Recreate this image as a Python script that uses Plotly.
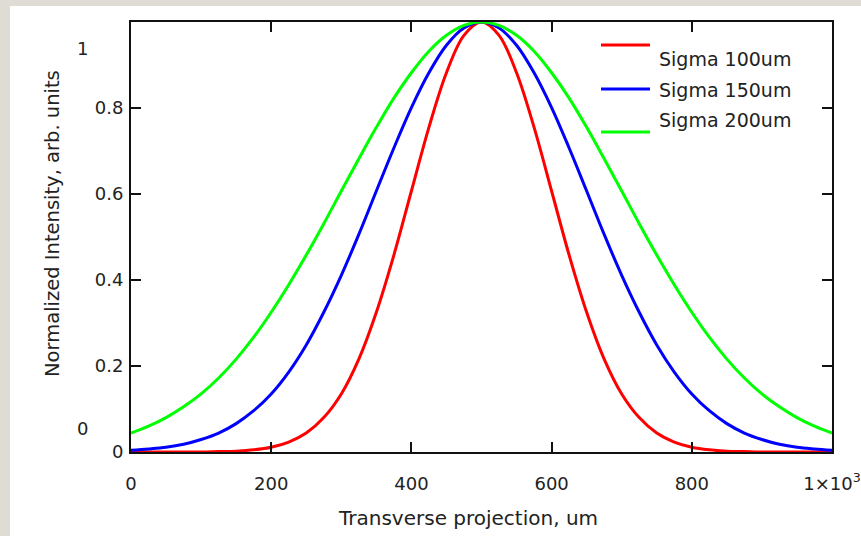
import plotly.graph_objects as go

# Transverse position (um)
x_um = [0, 25, 50, 75, 100, 125, 150, 175, 200, 225, 250, 275, 300, 325, 350, 375, 400,
        425, 450, 475, 500, 525, 550, 575, 600, 625, 650, 675, 700, 725, 750, 775, 800,
        825, 850, 875, 900, 925, 950, 975, 1000]

# Normalized intensity (symmetric about 500 um)
sigma100 = [0.000, 0.000, 0.000, 0.000, 0.000, 0.001, 0.002, 0.005, 0.011, 0.023, 0.044,
            0.080, 0.135, 0.216, 0.325, 0.458, 0.607, 0.755, 0.882, 0.969, 1.000,
            0.969, 0.882, 0.755, 0.607, 0.458, 0.325, 0.216, 0.135, 0.080, 0.044,
            0.023, 0.011, 0.005, 0.002, 0.001, 0.000, 0.000, 0.000, 0.000, 0.000]
sigma150 = [0.004, 0.007, 0.011, 0.018, 0.029, 0.044, 0.066, 0.096, 0.135, 0.186, 0.249,
            0.325, 0.411, 0.506, 0.607, 0.707, 0.801, 0.882, 0.946, 0.986, 1.000,
            0.986, 0.946, 0.882, 0.801, 0.707, 0.607, 0.506, 0.411, 0.325, 0.249,
            0.186, 0.135, 0.096, 0.066, 0.044, 0.029, 0.018, 0.011, 0.007, 0.004]
sigma200 = [0.044, 0.060, 0.080, 0.105, 0.135, 0.172, 0.216, 0.267, 0.325, 0.389, 0.458,
            0.531, 0.607, 0.682, 0.755, 0.823, 0.882, 0.932, 0.969, 0.992, 1.000,
            0.992, 0.969, 0.932, 0.882, 0.823, 0.755, 0.682, 0.607, 0.531, 0.458,
            0.389, 0.325, 0.267, 0.216, 0.172, 0.135, 0.105, 0.080, 0.060, 0.044]

series_names = ["Sigma 100um", "Sigma 150um", "Sigma 200um"]
series_colors = ["#ff0000", "#0000ff", "#00ff00"]

x_tickvals = [0, 200, 400, 600, 800, 1000]
x_ticktext = ["0", "200", "400", "600", "800", "1×10<sup>3</sup>"]
y_tickvals = [0, 0.2, 0.4, 0.6, 0.8]
y_ticktext = ["0", "0.2", "0.4", "0.6", "0.8"]

FONT = "DejaVu Sans"
W, H = 861, 536
L, R, T, B = 131, 29, 22, 84
PW, PH = W - L - R, H - T - B


def px(xp):
    return (xp - L) / PW


def py(yp):
    return (H - B - yp) / PH


fig = go.Figure()
for name, ys, col in zip(series_names, [sigma100, sigma150, sigma200], series_colors):
    fig.add_trace(go.Scatter(x=x_um, y=ys, mode="lines", name=name,
                             line=dict(color=col, width=3, shape="spline"),
                             showlegend=False))

shapes = [
    dict(type="rect", xref="paper", yref="paper", x0=px(10), x1=px(W + 5),
         y0=py(H + 5), y1=py(6), fillcolor="white", line=dict(width=0), layer="below"),
]
annotations = []
# custom legend
leg_line_y = [45, 89, 132]
leg_text_y = [59, 90, 120]
for name, col, ly, ty in zip(series_names, series_colors, leg_line_y, leg_text_y):
    shapes.append(dict(type="line", xref="paper", yref="paper", x0=px(601), x1=px(650),
                       y0=py(ly), y1=py(ly), line=dict(color=col, width=3)))
    annotations.append(dict(text=name, xref="paper", yref="paper", x=px(657), y=py(ty),
                            xanchor="left", yanchor="middle", showarrow=False,
                            font=dict(family=FONT, size=19, color="#222")))

# axis titles and axis-limit labels
annotations.append(dict(text="Transverse projection, um", xref="paper", yref="paper",
                        x=px(468), y=py(518), xanchor="center", yanchor="middle",
                        showarrow=False, font=dict(family=FONT, size=20, color="#222")))
annotations.append(dict(text="Normalized Intensity, arb. units", xref="paper", yref="paper",
                        x=px(52), y=py(224), xanchor="center", yanchor="middle",
                        textangle=-90, showarrow=False,
                        font=dict(family=FONT, size=19.5, color="#222")))
annotations.append(dict(text="1", xref="paper", yref="paper", x=px(82), y=py(49),
                        xanchor="center", yanchor="middle", showarrow=False,
                        font=dict(family=FONT, size=18, color="#222")))
annotations.append(dict(text="0", xref="paper", yref="paper", x=px(82), y=py(428),
                        xanchor="center", yanchor="middle", showarrow=False,
                        font=dict(family=FONT, size=18, color="#222")))

axis_common = dict(showgrid=False, zeroline=False, showline=True, linecolor="#111",
                   linewidth=2, mirror="ticks", ticks="inside", ticklen=10,
                   tickwidth=1.5, tickcolor="#111", automargin=False,
                   tickfont=dict(family=FONT, size=18, color="#222"))

fig.update_layout(
    width=W, height=H,
    margin=dict(l=L, r=R, t=T, b=B, autoexpand=False),
    paper_bgcolor="#dedcd5",
    plot_bgcolor="white",
    shapes=shapes,
    annotations=annotations,
    showlegend=False,
    xaxis=dict(range=[0, 1000], tickvals=x_tickvals, ticktext=x_ticktext,
               ticklabelstandoff=14, **axis_common),
    yaxis=dict(range=[0, 1], tickvals=y_tickvals, ticktext=y_ticktext,
               ticklabelstandoff=2, **axis_common),
)

fig.write_html("out.html")
